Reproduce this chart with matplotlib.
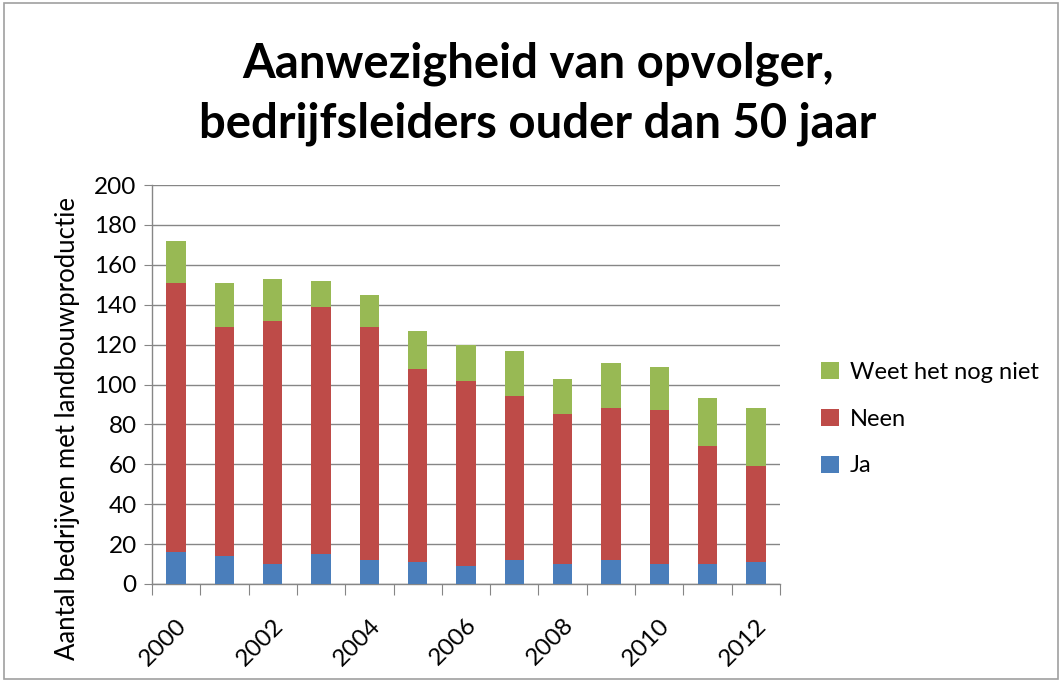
import matplotlib
matplotlib.use("Agg")
import matplotlib.pyplot as plt
import numpy as np
from matplotlib.patches import Rectangle

years = [2000, 2001, 2002, 2003, 2004, 2005, 2006, 2007, 2008, 2009, 2010, 2011, 2012]
ja = [16, 14, 10, 15, 12, 11, 9, 12, 10, 12, 10, 10, 11]
neen = [135, 115, 122, 124, 117, 97, 93, 82, 75, 76, 77, 59, 48]
weet = [21, 22, 21, 13, 16, 19, 18, 23, 18, 23, 22, 24, 29]
yticks = [0, 20, 40, 60, 80, 100, 120, 140, 160, 180, 200]

c_ja = "#4a7ebb"
c_neen = "#be4b48"
c_weet = "#98b954"

plt.rcParams['font.family'] = ['Lato', 'DejaVu Sans']

fig = plt.figure(figsize=(10.63, 6.82), dpi=100)
ax = fig.add_axes([152/1063, 1-584/682, (780-152)/1063, (584-185)/682])

x = np.arange(len(years))
w = 0.4
b1 = ax.bar(x, ja, w, color=c_ja, label="Ja", zorder=3)
b2 = ax.bar(x, neen, w, bottom=ja, color=c_neen, label="Neen", zorder=3)
bottom3 = np.array(ja) + np.array(neen)
b3 = ax.bar(x, weet, w, bottom=bottom3, color=c_weet, label="Weet het nog niet", zorder=3)

ax.set_xlim(-0.5, len(years) - 0.5)
ax.set_ylim(0, 200)
ax.set_yticks(yticks)
ax.set_yticklabels([str(v) for v in yticks], fontsize=17.5)
ax.yaxis.grid(True, color="#868686", linewidth=1.0, zorder=0)
ax.tick_params(axis='y', length=6, color="#868686", pad=5)

ax.set_xticks(np.arange(-0.5, len(years), 1.0), minor=False)
ax.set_xticklabels([])
ax.tick_params(axis='x', which='major', length=8, color="#868686")
ax.set_xticks(x[::2], minor=True)
ax.set_xticklabels([str(y) for y in years[::2]], minor=True, rotation=45,
                   ha='right', va='top', rotation_mode='anchor', fontsize=17.5)
ax.tick_params(axis='x', which='minor', length=0, pad=22)

for s in ['top', 'right']:
    ax.spines[s].set_visible(False)
for s in ['left', 'bottom']:
    ax.spines[s].set_color("#868686")
    ax.spines[s].set_linewidth(1.0)

fig.text(68/1063, 1-428/682, "Aantal bedrijven met landbouwproductie", rotation=90,
         ha='center', va='center', fontsize=18.5)

fig.text(538/1063, 1-64/682, "Aanwezigheid van opvolger,", ha='center', va='center',
         fontsize=34, fontweight='bold')
fig.text(538/1063, 1-124/682, "bedrijfsleiders ouder dan 50 jaar", ha='center', va='center',
         fontsize=34, fontweight='bold')

leg = fig.legend(handles=[b3, b2, b1], labels=["Weet het nog niet", "Neen", "Ja"],
                 loc='center left', bbox_to_anchor=(800/1063, 1-419/682), frameon=False,
                 fontsize=17, handlelength=0.75, handleheight=0.75, handletextpad=0.45,
                 labelspacing=1.1)

fig.add_artist(Rectangle((4/1063, 3/682), 1054/1063, 676/682, transform=fig.transFigure,
                         fill=False, edgecolor="#a0a0a0", linewidth=1.2))

fig.savefig("out.png", dpi=100)
